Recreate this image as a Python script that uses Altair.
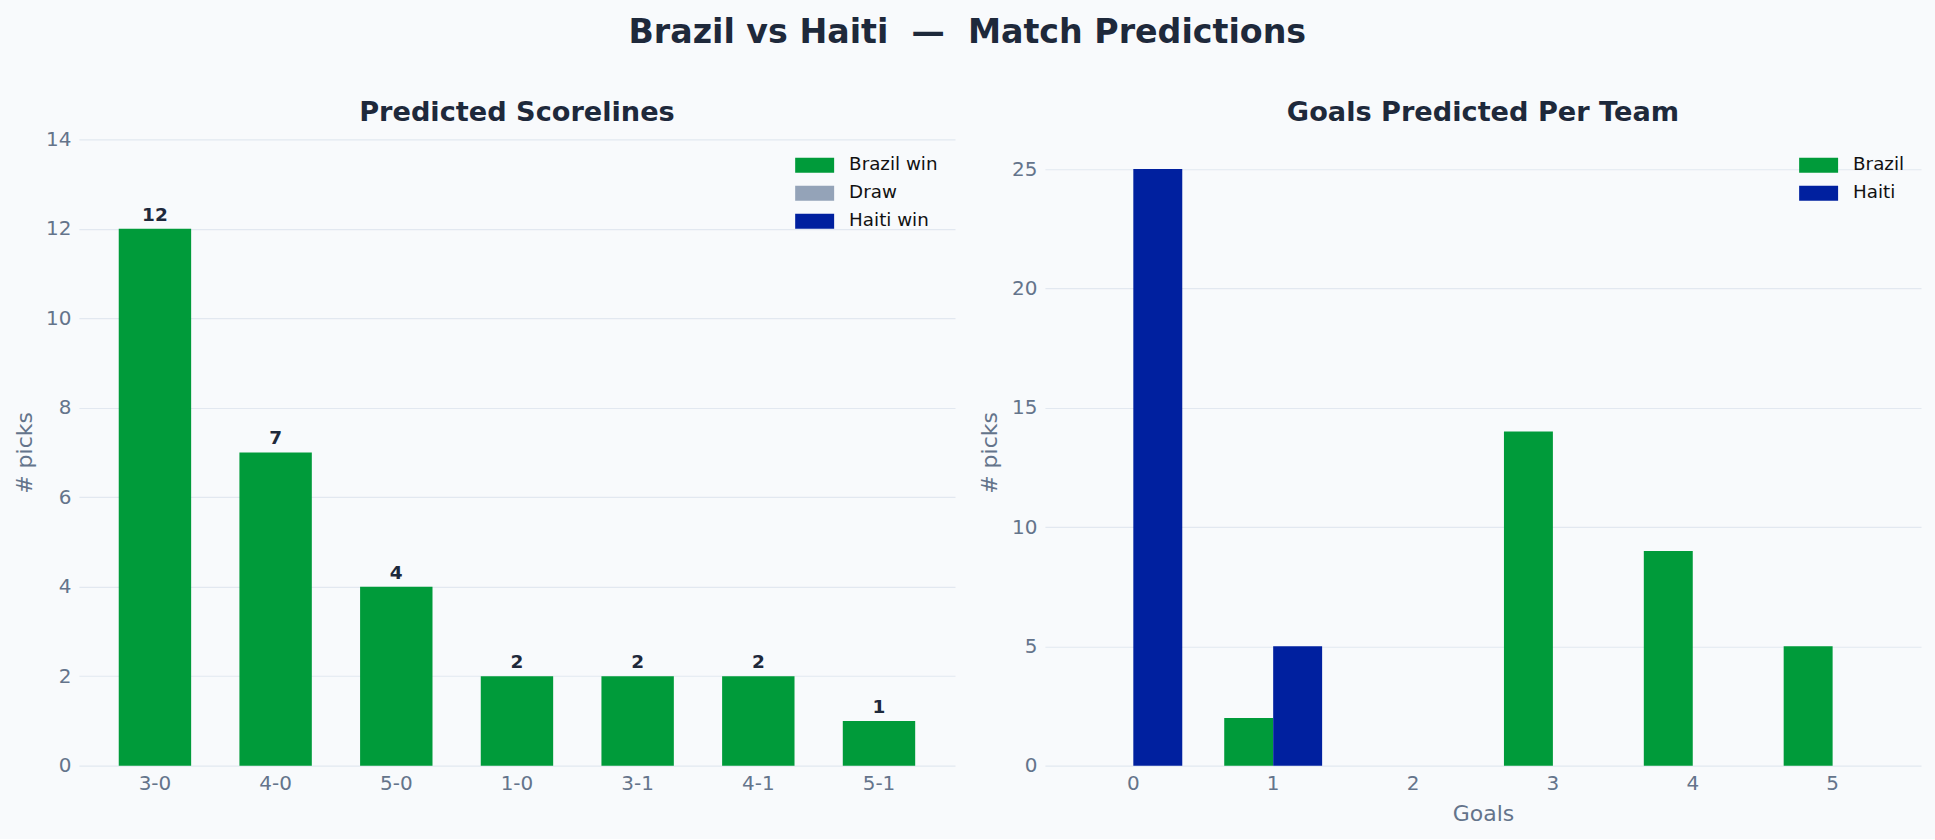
import altair as alt
import pandas as pd

# Predicted scorelines (Brazil-Haiti) and how many picks each got
scorelines = ["3-0", "4-0", "5-0", "1-0", "3-1", "4-1", "5-1"]
scoreline_picks = [12, 7, 4, 2, 2, 2, 1]
scoreline_outcome = ["Brazil win"] * 7

outcomes = ["Brazil win", "Draw", "Haiti win"]
outcome_colors = ["#009b3a", "#94a3b8", "#00209f"]

# Goals predicted per team
goals = [0, 1, 2, 3, 4, 5]
brazil_goal_picks = [0, 2, 0, 14, 9, 5]
haiti_goal_picks = [25, 5, 0, 0, 0, 0]

teams = ["Brazil", "Haiti"]
team_colors = ["#009b3a", "#00209f"]

BG = "#f8fafc"
INK = "#1e293b"
MUTED = "#64748b"
GRID = "#e2e8f0"
FONT = "DejaVu Sans"

score_df = pd.DataFrame(
    {"score": scorelines, "picks": scoreline_picks, "outcome": scoreline_outcome}
)

goals_df = pd.DataFrame(
    {
        "goals": goals * 2,
        "team": ["Brazil"] * len(goals) + ["Haiti"] * len(goals),
        "picks": brazil_goal_picks + haiti_goal_picks,
    }
)

PLOT_W = 877
PLOT_H = 627

legend_shape = "M-1,-0.385H1V0.385H-1Z"


def y_axis(values, title_pad):
    return alt.Axis(
        values=values,
        title="# picks",
        grid=True,
        gridColor=GRID,
        gridWidth=1.2,
        domain=False,
        ticks=False,
        labelPadding=8,
        titlePadding=title_pad,
    )


def legend(x, y):
    return alt.Legend(
        title=None,
        orient="none",
        legendX=x,
        legendY=y,
        symbolType=legend_shape,
        symbolSize=1521,
        symbolStrokeWidth=0,
        symbolOpacity=1,
        labelFontSize=18.3,
        labelColor="#111111",
        labelOffset=15,
        rowPadding=0,
        padding=0,
    )


def sub_title(text, dy):
    return alt.TitleParams(
        text,
        fontSize=27.2,
        fontWeight="bold",
        color=INK,
        baseline="alphabetic",
        offset=20,
        dy=dy,
    )


# Left panel: picks per scoreline
left_base = alt.Chart(score_df).encode(
    x=alt.X(
        "score:N",
        sort=scorelines,
        scale=alt.Scale(paddingInner=0.4, paddingOuter=0.33),
        axis=alt.Axis(title=None, labelAngle=0, domain=False, ticks=False, labelPadding=8),
    ),
    y=alt.Y(
        "picks:Q",
        scale=alt.Scale(domain=[0, 14], nice=False),
        axis=y_axis(list(range(0, 15, 2)), 9),
    ),
)

left_bars = left_base.mark_bar().encode(
    color=alt.Color(
        "outcome:N",
        scale=alt.Scale(domain=outcomes, range=outcome_colors),
        legend=legend(717, 6.5),
    )
)

left_labels = left_base.mark_text(
    baseline="alphabetic", dy=-8, fontSize=18.5, fontWeight="bold", color=INK
).encode(text="picks:Q")

left = alt.layer(left_bars, left_labels).properties(
    width=PLOT_W,
    height=PLOT_H,
    title=sub_title("Predicted Scorelines", 39),
)

# Right panel: grouped bars of goals per team
right = (
    alt.Chart(goals_df)
    .mark_bar()
    .encode(
        x=alt.X(
            "goals:O",
            scale=alt.Scale(paddingInner=0.3, paddingOuter=0.282),
            axis=alt.Axis(
                title="Goals",
                labelAngle=0,
                domain=False,
                ticks=False,
                labelPadding=8,
                titlePadding=10,
            ),
        ),
        xOffset=alt.XOffset("team:N", sort=teams, scale=alt.Scale(paddingInner=0, paddingOuter=0)),
        y=alt.Y(
            "picks:Q",
            scale=alt.Scale(domain=[0, 26.25], nice=False),
            axis=y_axis([0, 5, 10, 15, 20, 25], 10),
        ),
        color=alt.Color(
            "team:N",
            scale=alt.Scale(domain=teams, range=team_colors),
            legend=legend(755, 6.5),
        ),
    )
    .properties(
        width=PLOT_W,
        height=PLOT_H,
        title=sub_title("Goals Predicted Per Team", 29),
    )
)

chart = (
    alt.hconcat(left, right, spacing=23)
    .resolve_scale(color="independent")
    .properties(
        title=alt.TitleParams(
            "Brazil vs Haiti\u00a0\u00a0—\u00a0\u00a0Match Predictions",
            fontSize=33.3,
            fontWeight="bold",
            color=INK,
            anchor="middle",
            baseline="alphabetic",
            offset=22.5,
        ),
        padding={"left": 13, "right": 14, "top": 16, "bottom": 14},
        background=BG,
    )
    .configure(font=FONT)
    .configure_view(stroke=None)
    .configure_axis(
        labelFontSize=20,
        labelColor=MUTED,
        titleFontSize=22,
        titleColor=MUTED,
        titleFontWeight="normal",
        labelFont=FONT,
        titleFont=FONT,
    )
    .configure_legend(labelFont=FONT)
    .configure_title(font=FONT)
)

chart.save("out.html", embed_options={"renderer": "svg", "actions": False})
